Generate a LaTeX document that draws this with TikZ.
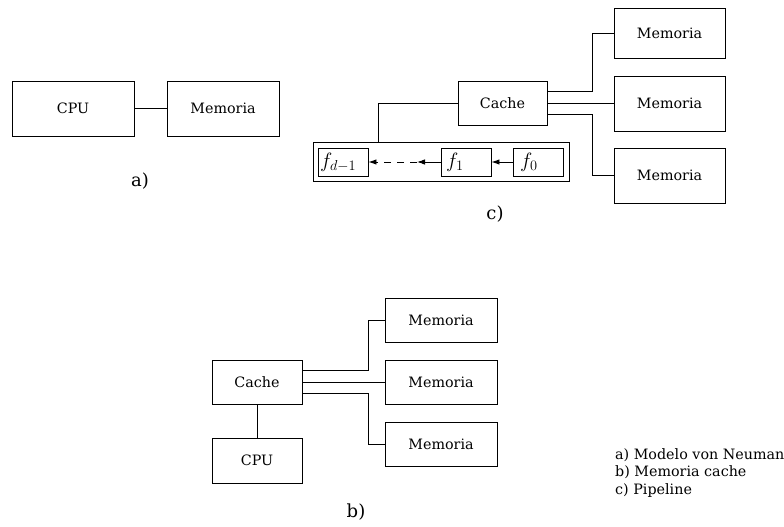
\documentclass[tikz,border=0pt]{standalone}
\usepackage{fontspec}
\setmainfont{DejaVu Serif}
\usepackage{amsmath}
\usetikzlibrary{arrows.meta}

\tikzset{
  caja/.style={draw, line width=0.9pt, inner sep=0pt, minimum width=112pt, minimum height=44pt},
  celda/.style={draw, line width=0.9pt, inner xsep=2pt, inner ysep=0pt, text width=46pt, minimum height=28pt, align=left, font=\fontsize{20}{24}\selectfont},
  linea/.style={line width=0.9pt},
  flecha/.style={line width=0.9pt, -{Latex[length=8pt, width=5.5pt]}},
  etiqueta/.style={font=\fontsize{18}{22}\selectfont}
}

\begin{document}
\begin{tikzpicture}[x=1pt, y=-1pt, font=\fontsize{14.3}{17.5}\selectfont]
            \useasboundingbox (0,0) rectangle (784,527);
            % a) von Neumann
            \node[caja, minimum width=122pt, minimum height=55pt] (cpua) at (73,108.5) {CPU};
            \node[caja, minimum height=55pt] (mema) at (223,108.5) {Memoria};
            \draw[linea] (cpua) -- (mema);
            \node[etiqueta] (laba) at (140,181) {a)};
            % c) pipeline
            \node[caja, minimum width=89pt] (cachec) at (502.5,103) {Cache};
            \foreach \n/\y/\h in {1/33/50pt, 2/103.5/55pt, 3/175.5/55pt} {
                \node[caja, minimum width=111pt, minimum height=\h] (memc\n) at (669.5,\y) {Memoria};
            }
            \draw[linea] ([yshift=12pt]cachec.east) -- ++(45,0) |- (memc1.west);
            \draw[linea] (cachec.east) -- (cachec.east -| memc2.west);
            \draw[linea] ([yshift=-11pt]cachec.east) -- ++(45,0) |- (memc3.west);
            \node[caja, minimum width=256pt, minimum height=39pt] (pipe) at (441,161.5) {};
            \node[celda] (fd) at (343,162) {$f_{d-1}$};
            \node[celda, inner xsep=5pt, text width=40pt] (f1) at (466,162) {$f_1$};
            \node[celda, inner xsep=7pt, text width=36pt] (f0) at (538,162) {$f_0$};
            \coordinate (hueco) at (417,162);
            \draw[flecha] (f0) -- (f1);
            \draw[flecha] (f1) -- (hueco);
            \draw[flecha, dash pattern=on 7pt off 6pt] (hueco) -- (fd);
            \draw[linea] (cachec.west) -| ([xshift=66pt]pipe.north west);
            \node[etiqueta] (labc) at (495,214) {c)};
            % b) memoria cache
            \node[caja, minimum width=90pt] (cacheb) at (257,382) {Cache};
            \node[caja, minimum width=90pt, minimum height=45pt] (cpub) at (257,460.5) {CPU};
            \foreach \n/\y in {1/320.5, 2/382, 3/444} {
                \node[caja] (memb\n) at (441,\y) {Memoria};
            }
            \draw[linea] (cacheb) -- (cpub);
            \draw[linea] ([yshift=12pt]cacheb.east) -- ++(66,0) |- (memb1.west);
            \draw[linea] (cacheb.east) -- (memb2.west);
            \draw[linea] ([yshift=-11pt]cacheb.east) -- ++(66,0) |- (memb3.west);
            \node[etiqueta] (labb) at (356,512) {b)};
            % leyenda
            \node[anchor=west, align=left, inner sep=0pt] (leyenda) at (615,473) {a) Modelo von Neuman\\ b) Memoria cache\\ c) Pipeline};
        \end{tikzpicture}
\end{document}
